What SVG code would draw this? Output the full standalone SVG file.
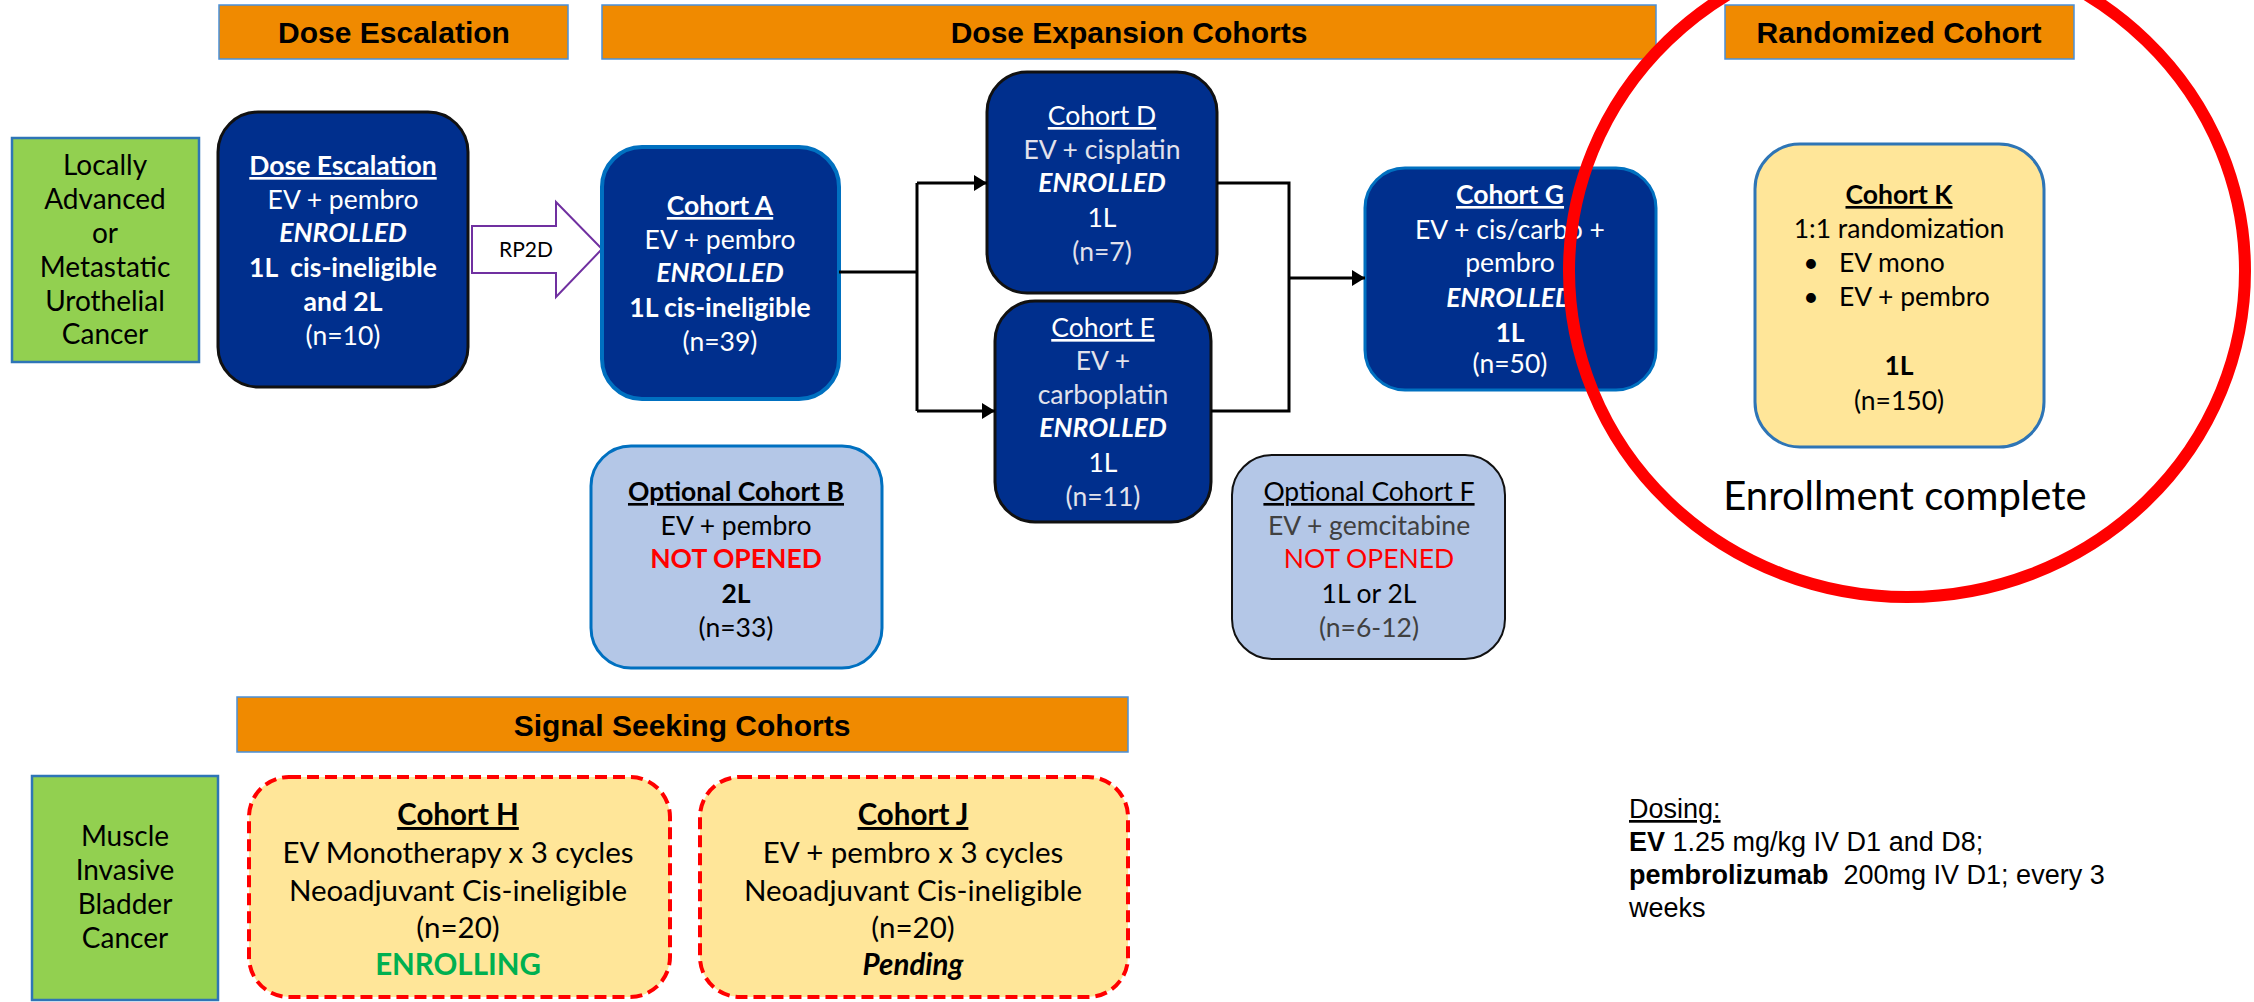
<svg xmlns="http://www.w3.org/2000/svg" width="2254" height="1002" viewBox="0 0 2254 1002">
<defs>
<style>
.hdr{fill:#F08A00;stroke:#4A90D9;stroke-width:1.5}
.ht{font-family:"Liberation Sans",Arial,sans-serif;font-weight:bold;font-size:30px;fill:#000;text-anchor:middle}
.grn{fill:#92D050;stroke:#2E75B6;stroke-width:2.5}
.t{font-family:Lato,"Noto Sans",sans-serif;font-size:26.5px;text-anchor:middle}
.tl{font-size:29.5px}
.w{fill:#fff}
.g{fill:#E2E2EC}
.k{fill:#000}
.dg{fill:#404040}
.b{font-weight:bold}
.i{font-style:italic}
.u{text-decoration:underline}
.red{fill:#FF0000}
.navy{fill:#002F8D}
.lb{fill:#B4C7E7}
.yel{fill:#FFE699}
.conn{fill:none;stroke:#000;stroke-width:3}
.dosing{font-family:"Liberation Sans",Arial,sans-serif;font-size:27px;fill:#000}
</style>
<marker id="ah" markerUnits="userSpaceOnUse" markerWidth="14" markerHeight="17" refX="13" refY="8" orient="auto">
<path d="M0,0 L13,8 L0,16 Z" fill="#000"/>
</marker>
</defs>
<rect width="2254" height="1002" fill="#fff"/>

<g id="header-dose-escalation">
<rect class="hdr" x="219" y="5" width="349" height="54"/>
<text class="ht" x="394" y="43">Dose Escalation</text>
</g>
<g id="header-dose-expansion">
<rect class="hdr" x="602" y="5" width="1054" height="54"/>
<text class="ht" x="1129" y="43">Dose Expansion Cohorts</text>
</g>
<g id="header-randomized">
<rect class="hdr" x="1725" y="5" width="349" height="54"/>
<text class="ht" x="1899" y="43">Randomized Cohort</text>
</g>
<g id="header-signal-seeking">
<rect class="hdr" x="237" y="697" width="891" height="55"/>
<text class="ht" x="682" y="736">Signal Seeking Cohorts</text>
</g>

<g id="label-luc">
<rect class="grn" x="12" y="138" width="187" height="224"/>
<text class="t k" style="font-size:28px" x="105" y="175">Locally</text>
<text class="t k" style="font-size:28px" x="105" y="209">Advanced</text>
<text class="t k" style="font-size:28px" x="105" y="243">or</text>
<text class="t k" style="font-size:28px" x="105" y="277">Metastatic</text>
<text class="t k" style="font-size:28px" x="105" y="311">Urothelial</text>
<text class="t k" style="font-size:28px" x="105" y="344">Cancer</text>
</g>

<g id="label-mibc">
<rect class="grn" x="32" y="776" width="186" height="224"/>
<text class="t k" style="font-size:28px" x="125" y="846">Muscle</text>
<text class="t k" style="font-size:28px" x="125" y="880">Invasive</text>
<text class="t k" style="font-size:28px" x="125" y="914">Bladder</text>
<text class="t k" style="font-size:28px" x="125" y="948">Cancer</text>
</g>

<g id="node-dose-escalation">
<rect class="navy" x="218" y="112" width="250" height="275" rx="40" stroke="#111" stroke-width="3"/>
<text class="t w b u" x="343" y="175">Dose Escalation</text>
<text class="t w" x="343" y="209">EV + pembro</text>
<text class="t w b i" x="343" y="242">ENROLLED</text>
<text class="t w b" x="343" y="277" xml:space="preserve">1L  cis-ineligible</text>
<text class="t w b" x="343" y="311">and 2L</text>
<text class="t w" x="343" y="345">(n=10)</text>
</g>

<g id="node-rp2d">
<polygon points="472,226 556,226 556,202 602,249 556,297 556,273 472,273" fill="#fff" stroke="#7030A0" stroke-width="2"/>
<text class="t k" style="font-size:21px" x="526" y="257">RP2D</text>
</g>

<g id="node-cohort-a">
<rect class="navy" x="602" y="147" width="237" height="252" rx="40" stroke="#0070C0" stroke-width="4"/>
<text class="t w b u" x="720" y="215">Cohort A</text>
<text class="t w" x="720" y="249">EV + pembro</text>
<text class="t w b i" x="720" y="282">ENROLLED</text>
<text class="t w b" x="720" y="317">1L cis-ineligible</text>
<text class="t w" x="720" y="351">(n=39)</text>
</g>

<g id="node-cohort-d">
<rect class="navy" x="987" y="72" width="230" height="221" rx="40" stroke="#111" stroke-width="3"/>
<text class="t w u" x="1102" y="125">Cohort D</text>
<text class="t g" x="1102" y="159">EV + cisplatin</text>
<text class="t w b i" x="1102" y="192">ENROLLED</text>
<text class="t w" x="1102" y="227">1L</text>
<text class="t g" x="1102" y="261">(n=7)</text>
</g>

<g id="node-cohort-e">
<rect class="navy" x="995" y="301" width="216" height="221" rx="40" stroke="#111" stroke-width="3"/>
<text class="t w u" x="1103" y="337">Cohort E</text>
<text class="t g" x="1103" y="370">EV +</text>
<text class="t g" x="1103" y="404">carboplatin</text>
<text class="t w b i" x="1103" y="437">ENROLLED</text>
<text class="t w" x="1103" y="472">1L</text>
<text class="t g" x="1103" y="506">(n=11)</text>
</g>

<g id="node-cohort-g">
<rect class="navy" x="1365" y="168" width="291" height="222" rx="40" stroke="#0070C0" stroke-width="3"/>
<text class="t w b u" x="1510" y="204">Cohort G</text>
<text class="t w" x="1510" y="239">EV + cis/carbo +</text>
<text class="t w" x="1510" y="272">pembro</text>
<text class="t w b i" x="1510" y="307">ENROLLED</text>
<text class="t w b" x="1510" y="342">1L</text>
<text class="t w" x="1510" y="373">(n=50)</text>
</g>

<g id="node-cohort-b">
<rect class="lb" x="591" y="446" width="291" height="222" rx="40" stroke="#0070C0" stroke-width="3"/>
<text class="t k b u" x="736" y="501">Optional Cohort B</text>
<text class="t k" x="736" y="535">EV + pembro</text>
<text class="t red b" x="736" y="568">NOT OPENED</text>
<text class="t k b" x="736" y="603">2L</text>
<text class="t k" x="736" y="637">(n=33)</text>
</g>

<g id="node-cohort-f">
<rect class="lb" x="1232" y="455" width="273" height="204" rx="40" stroke="#111" stroke-width="2"/>
<text class="t k u" x="1369" y="501">Optional Cohort F</text>
<text class="t dg" x="1369" y="535">EV + gemcitabine</text>
<text class="t red" x="1369" y="568">NOT OPENED</text>
<text class="t k" x="1369" y="603">1L or 2L</text>
<text class="t dg" x="1369" y="637">(n=6-12)</text>
</g>

<g id="node-cohort-k">
<rect class="yel" x="1755" y="144" width="289" height="303" rx="45" stroke="#2E75B6" stroke-width="3"/>
<text class="t k b u" x="1899" y="204">Cohort K</text>
<text class="t k" x="1899" y="238">1:1 randomization</text>
<text class="t k" x="1811" y="272">•</text>
<text class="t k" style="text-anchor:start" x="1839" y="272">EV mono</text>
<text class="t k" x="1811" y="306">•</text>
<text class="t k" style="text-anchor:start" x="1839" y="306">EV + pembro</text>
<text class="t k b" x="1899" y="375">1L</text>
<text class="t k" x="1899" y="410">(n=150)</text>
</g>

<g id="note-enrollment">
<text class="t k" style="font-size:40px" x="1905" y="510">Enrollment complete</text>
</g>

<g id="node-cohort-h">
<rect class="yel" x="249" y="777" width="421" height="220" rx="40" stroke="#FF0000" stroke-width="4" stroke-dasharray="12 6"/>
<text class="t tl k b u" x="458" y="825">Cohort H</text>
<text class="t tl k" x="458" y="863">EV Monotherapy x 3 cycles</text>
<text class="t tl k" x="458" y="901">Neoadjuvant Cis-ineligible</text>
<text class="t tl k" x="458" y="938">(n=20)</text>
<text class="t tl b" fill="#00B050" x="458" y="975">ENROLLING</text>
</g>

<g id="node-cohort-j">
<rect class="yel" x="700" y="777" width="428" height="220" rx="40" stroke="#FF0000" stroke-width="4" stroke-dasharray="12 6"/>
<text class="t tl k b u" x="913" y="825">Cohort J</text>
<text class="t tl k" x="913" y="863">EV + pembro x 3 cycles</text>
<text class="t tl k" x="913" y="901">Neoadjuvant Cis-ineligible</text>
<text class="t tl k" x="913" y="938">(n=20)</text>
<text class="t tl k b i" x="913" y="975">Pending</text>
</g>

<g id="note-dosing">
<text class="dosing" x="1629" y="818" text-decoration="underline">Dosing:</text>
<text class="dosing" x="1629" y="851"><tspan font-weight="bold">EV</tspan> 1.25 mg/kg IV D1 and D8;</text>
<text class="dosing" x="1629" y="884" xml:space="preserve"><tspan font-weight="bold">pembrolizumab</tspan>  200mg IV D1; every 3</text>
<text class="dosing" x="1629" y="917">weeks</text>
</g>

<g id="connectors">
<path class="conn" d="M839,272 H917"/>
<path class="conn" d="M917,183 V411"/>
<path class="conn" d="M917,183 H987" marker-end="url(#ah)"/>
<path class="conn" d="M917,411 H995" marker-end="url(#ah)"/>
<path class="conn" d="M1217,183 H1289 V411 H1211"/>
<path class="conn" d="M1289,278 H1365" marker-end="url(#ah)"/>
</g>

<g id="highlight-circle">
<ellipse cx="1907" cy="271" rx="338" ry="326" fill="none" stroke="#FF0000" stroke-width="12"/>
</g>
</svg>
